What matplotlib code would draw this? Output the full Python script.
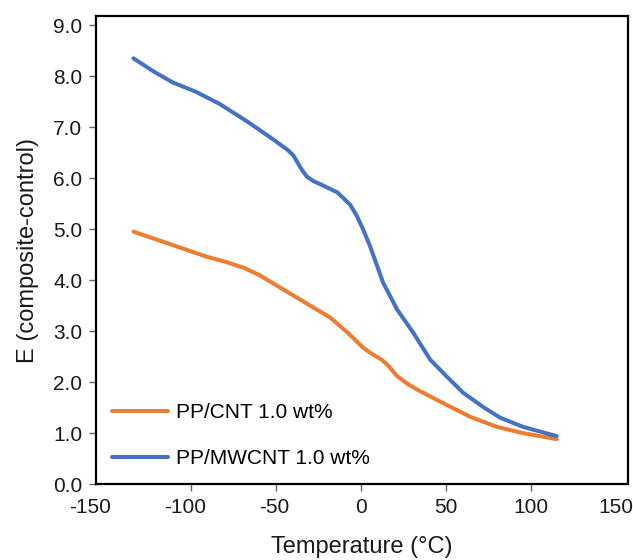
import matplotlib
matplotlib.use("Agg")
import matplotlib.pyplot as plt
import matplotlib.transforms as mtransforms

plt.rcParams['font.family'] = ['Liberation Sans', 'DejaVu Sans']
plt.rcParams['axes.unicode_minus'] = False

# Data
cnt_temp = [-134, -112, -91, -80, -69, -60, -53.5, -44, -34, -18, -8, 1, 5,
            12, 16, 21, 27, 33, 48, 64, 80, 95, 115]
cnt_e = [4.95, 4.70, 4.46, 4.36, 4.24, 4.10, 3.97, 3.78, 3.58, 3.26, 2.97,
         2.68, 2.58, 2.44, 2.32, 2.12, 1.97, 1.85, 1.59, 1.32, 1.12, 1.00, 0.88]

mwcnt_temp = [-134, -122, -111, -97, -83, -67, -53.5, -43.5, -40, -37.5, -35,
              -32, -28, -24, -14, -6.5, -2.4, 1.2, 5.3, 12.9, 21.2, 30.6,
              40.6, 50.6, 60, 71.8, 81.8, 95.3, 115]
mwcnt_e = [8.35, 8.09, 7.88, 7.69, 7.45, 7.11, 6.80, 6.56, 6.45, 6.31, 6.17,
           6.03, 5.94, 5.88, 5.72, 5.48, 5.25, 4.99, 4.66, 3.95, 3.42, 2.97,
           2.44, 2.10, 1.79, 1.51, 1.30, 1.12, 0.94]

x_ticks = [-150, -100, -50, 0, 50, 100, 150]
y_ticks = [0, 1, 2, 3, 4, 5, 6, 7, 8, 9]

fig = plt.figure(figsize=(6.33, 5.60), dpi=100)
ax = fig.add_axes([0.1517, 0.1357, 0.8404, 0.8357])

ax.plot(cnt_temp, cnt_e, color='#ED7D31', lw=2.9, label='PP/CNT 1.0 wt%',
        solid_capstyle='round', solid_joinstyle='round')
ax.plot(mwcnt_temp, mwcnt_e, color='#4472C4', lw=2.9, label='PP/MWCNT 1.0 wt%',
        solid_capstyle='round', solid_joinstyle='round')

ax.set_xlim(-156, 157)
ax.set_ylim(0, 9.18)
ax.set_xticks(x_ticks)
ax.set_yticks(y_ticks)
ax.set_yticklabels([f"{v:.1f}" for v in y_ticks])

for s in ax.spines.values():
    s.set_linewidth(1.6)
    s.set_color('black')

ax.tick_params(axis='both', direction='out', length=5, width=1.0,
               color='#666666', labelsize=15, colors='#1a1a1a')
ax.tick_params(axis='x', pad=5)
ax.tick_params(axis='y', pad=5)

# no tick marks at the ends of the x axis
xt = ax.xaxis.get_major_ticks()
xt[0].tick1line.set_visible(False)
xt[-1].tick1line.set_visible(False)

# nudge the left-most labels like the original
shifts = {0: -16, 1: -6, 2: -2}
for i, lab in enumerate(ax.get_xticklabels()):
    if i in shifts:
        off = mtransforms.ScaledTranslation(shifts[i] / 100, 0, fig.dpi_scale_trans)
        lab.set_transform(lab.get_transform() + off)

ax.set_xlabel("Temperature (°C)", fontsize=17, color='#1a1a1a', labelpad=14)
ax.set_ylabel("E (composite-control)", fontsize=17, color='#1a1a1a', labelpad=10)

ax.legend(loc='lower left', bbox_to_anchor=(0.03, 0.034), frameon=False,
          fontsize=15, handlelength=2.7, handletextpad=0.35, labelspacing=1.3,
          borderpad=0, borderaxespad=0)

plt.savefig("out.png", dpi=100)
